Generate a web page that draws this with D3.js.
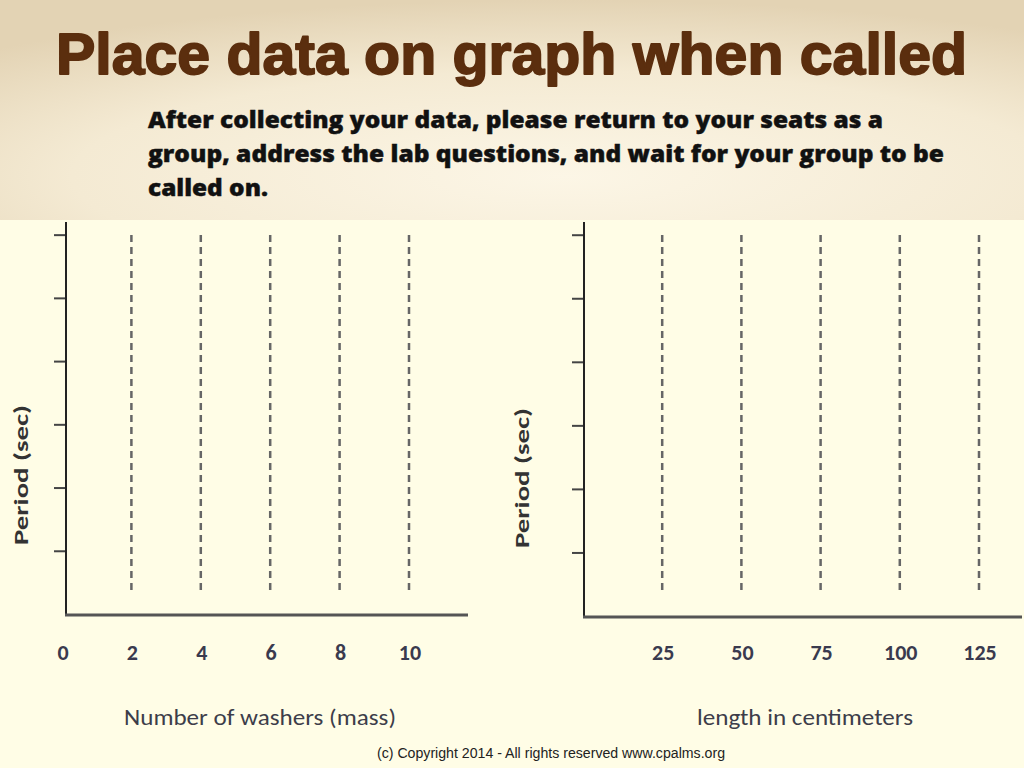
<!DOCTYPE html>
<html>
<head>
<meta charset="utf-8">
<script src="https://cdn.jsdelivr.net/npm/d3@7"></script>
<style>
html,body{margin:0;padding:0;background:#fffde6;}
svg{display:block;}
</style>
</head>
<body>
<svg id="c" width="1024" height="768"></svg>
<script>
// ---- data ----
const title = "Place data on graph when called";
const instructions = [
  "After collecting your data, please return to your seats as a",
  "group, address the lab questions, and wait for your group to be",
  "called on."
];
const washerTicks = [0, 2, 4, 6, 8, 10];
const washerGuides = [2, 4, 6, 8, 10];
const lengthTicks = [25, 50, 75, 100, 125];
const lengthGuides = [25, 50, 75, 100, 125];
const periodTicks = [1, 2, 3, 4, 5, 6];
const yLabel = "Period (sec)";
const leftXLabel = "Number of washers (mass)";
const rightXLabel = "length in centimeters";
const copyright = "(c) Copyright 2014 - All rights reserved www.cpalms.org";

const svg = d3.select("#c");

// ---- background ----
const defs = svg.append("defs");
const g1 = defs.append("radialGradient").attr("id","parch").attr("cx","0.55").attr("cy","0.8").attr("r","0.8");
g1.append("stop").attr("offset","0").attr("stop-color","#fcf6e6");
g1.append("stop").attr("offset","0.6").attr("stop-color","#f4ead3");
g1.append("stop").attr("offset","1").attr("stop-color","#e3d3b4");
svg.append("rect").attr("x",0).attr("y",0).attr("width",1024).attr("height",768).attr("fill","#fffde6");
svg.append("rect").attr("x",0).attr("y",0).attr("width",1024).attr("height",220).attr("fill","url(#parch)");

// ---- title ----
svg.append("text").attr("x",56).attr("y",74)
  .attr("textLength",911).attr("lengthAdjust","spacingAndGlyphs")
  .style("font-family","'Liberation Sans', Arial, sans-serif").style("font-weight","bold")
  .style("font-size","58px").attr("fill","#5b2e0e")
  .attr("stroke","#5b2e0e").attr("stroke-width",1.8).attr("stroke-linejoin","round")
  .text(title);

const lineEnds = [883, 944, 268];
instructions.forEach((t,i)=>{
  svg.append("text").attr("x",148).attr("y",128 + i*34)
    .attr("textLength", lineEnds[i]-148).attr("lengthAdjust","spacingAndGlyphs")
    .style("font-family","'Open Sans', 'DejaVu Sans', sans-serif").style("font-weight","800")
    .style("font-size","22px").attr("fill","#111")
    .attr("stroke","#111").attr("stroke-width",0.4)
    .text(t);
});

// ---- chart builder ----
function chart(opts){
  const g = svg.append("g");
  const x = d3.scaleLinear().domain(opts.xDomain).range(opts.xRange);
  const y = d3.scaleLinear().domain([0,6.2]).range([opts.yBase - 1, 222]);
  // y ticks
  const yAxis = d3.axisLeft(y).tickValues(periodTicks).tickSize(12).tickFormat("");
  const ya = g.append("g").attr("transform",`translate(${opts.axisX},0)`).call(yAxis);
  ya.select(".domain").remove();
  ya.selectAll(".tick line").attr("stroke","#444").attr("stroke-width",2);
  // guides
  g.selectAll("line.guide").data(opts.guides).join("line").attr("class","guide")
    .attr("x1",d=>x(d)).attr("x2",d=>x(d)).attr("y1",235).attr("y2",593)
    .attr("stroke","#666").attr("stroke-width",2.5).attr("stroke-dasharray","7,5");
  // axes lines
  g.append("line").attr("x1",opts.axisX).attr("x2",opts.axisX).attr("y1",222).attr("y2",opts.yBase)
    .attr("stroke","#222").attr("stroke-width",2);
  g.append("line").attr("x1",opts.axisX-1).attr("x2",opts.xEnd).attr("y1",opts.yBase).attr("y2",opts.yBase)
    .attr("stroke","#555").attr("stroke-width",3);
  // tick labels
  g.selectAll("text.tl").data(opts.ticks).join("text").attr("class","tl")
    .attr("x",d=>x(d)+opts.labelShift).attr("y",660).attr("text-anchor","middle")
    .style("font-family","Carlito, Lato, 'Open Sans', sans-serif").style("font-size","22px")
    .style("font-weight","600")
    .attr("fill","#3a3a4e").text(d=>d);
  // x label
  g.append("text").attr("x",opts.xLabelX).attr("y",725).attr("text-anchor","middle")
    .attr("textLength",opts.xLabelW).attr("lengthAdjust","spacingAndGlyphs")
    .style("font-family","Carlito, Lato, 'Open Sans', sans-serif").style("font-size","23px")
    .attr("fill","#3d3d4a").text(opts.xLabel);
  // y label
  g.append("text").attr("transform",`translate(${opts.yLabelX},${opts.yLabelY}) rotate(-90)`)
    .attr("text-anchor","middle").attr("textLength",140).attr("lengthAdjust","spacingAndGlyphs")
    .style("font-family","Carlito, Lato, 'Open Sans', sans-serif").style("font-weight","bold")
    .style("font-size","20px").attr("fill","#333").text(yLabel);
}

chart({xDomain:[0,10], xRange:[62,409], axisX:66, xEnd:468, yBase:615,
  ticks:washerTicks, guides:washerGuides, labelShift:1,
  xLabel:leftXLabel, xLabelX:260, xLabelW:272, yLabelX:28, yLabelY:475});
chart({xDomain:[0,125], xRange:[583,979], axisX:584, xEnd:1022, yBase:617,
  ticks:lengthTicks, guides:lengthGuides, labelShift:1,
  xLabel:rightXLabel, xLabelX:805, xLabelW:216, yLabelX:529, yLabelY:478});

// ---- copyright ----
svg.append("text").attr("x",377).attr("y",758)
  .attr("textLength",348).attr("lengthAdjust","spacingAndGlyphs")
  .style("font-family","'Liberation Sans', Arial, sans-serif").style("font-size","14px")
  .attr("fill","#222").text(copyright);
</script>
</body>
</html>
